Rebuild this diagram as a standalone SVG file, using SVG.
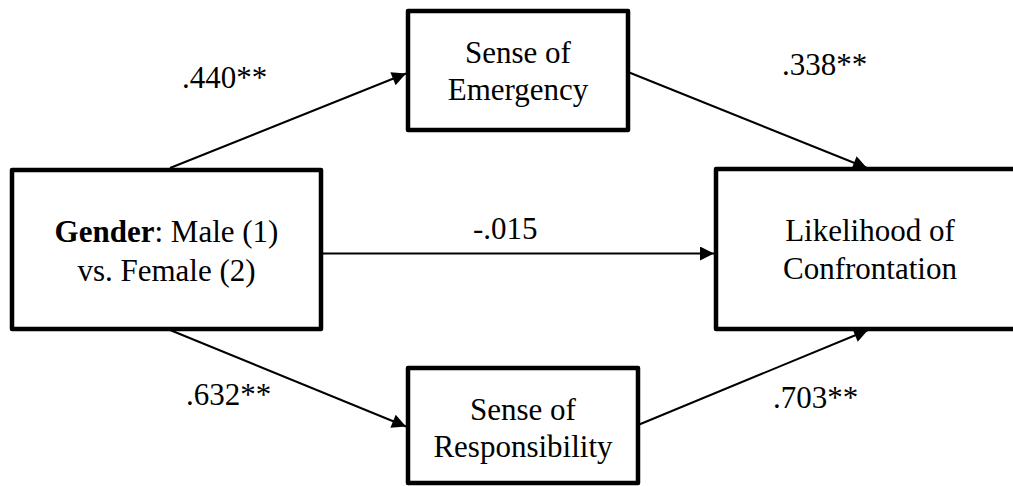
<svg xmlns="http://www.w3.org/2000/svg" width="1013" height="486" viewBox="0 0 1013 486">
<style>
.box{fill:#fff;stroke:#000;stroke-width:4.5;stroke-linejoin:round}
text{font-family:'Liberation Serif','Times New Roman',serif;font-size:31px;fill:#000}
.t{text-anchor:middle}
.c{stroke:#000;stroke-width:2;fill:none;marker-end:url(#ah)}
</style>
<defs>
<marker id="ah" viewBox="0 0 10 10" refX="10" refY="5" markerWidth="18" markerHeight="14" markerUnits="userSpaceOnUse" orient="auto">
<path d="M0,0 L10,5 L0,10 z" fill="#000"/>
</marker>
</defs>
<rect width="1013" height="486" fill="#fff"/>
<g id="connectors">
<line class="c" x1="170" y1="168" x2="406" y2="73.5"/>
<line class="c" x1="628" y1="72" x2="867" y2="168"/>
<line class="c" x1="321" y1="253.5" x2="714" y2="253.5"/>
<line class="c" x1="170" y1="330" x2="406" y2="426.5"/>
<line class="c" x1="638" y1="425" x2="868" y2="330"/>
</g>
<g id="labels">
<text x="182" y="88">.440**</text>
<text x="782" y="75">.338**</text>
<text x="473" y="239">-.015</text>
<text x="186" y="405">.632**</text>
<text x="773" y="408">.703**</text>
</g>
<g id="gender">
<rect class="box" x="12" y="170" width="309" height="159"/>
<text class="t" x="166.5" y="242"><tspan font-weight="bold">Gender</tspan>: Male (1)</text>
<text class="t" x="166.5" y="281">vs. Female (2)</text>
</g>
<g id="emergency">
<rect class="box" x="408" y="11" width="220" height="119"/>
<text class="t" x="518" y="63">Sense of</text>
<text class="t" x="518" y="100">Emergency</text>
</g>
<g id="responsibility">
<rect class="box" x="408" y="368" width="230" height="115"/>
<text class="t" x="523" y="420">Sense of</text>
<text class="t" x="523" y="457">Responsibility</text>
</g>
<g id="likelihood">
<rect class="box" x="716" y="169" width="310" height="160"/>
<text class="t" x="870" y="241">Likelihood of</text>
<text class="t" x="870" y="279">Confrontation</text>
</g>
</svg>
